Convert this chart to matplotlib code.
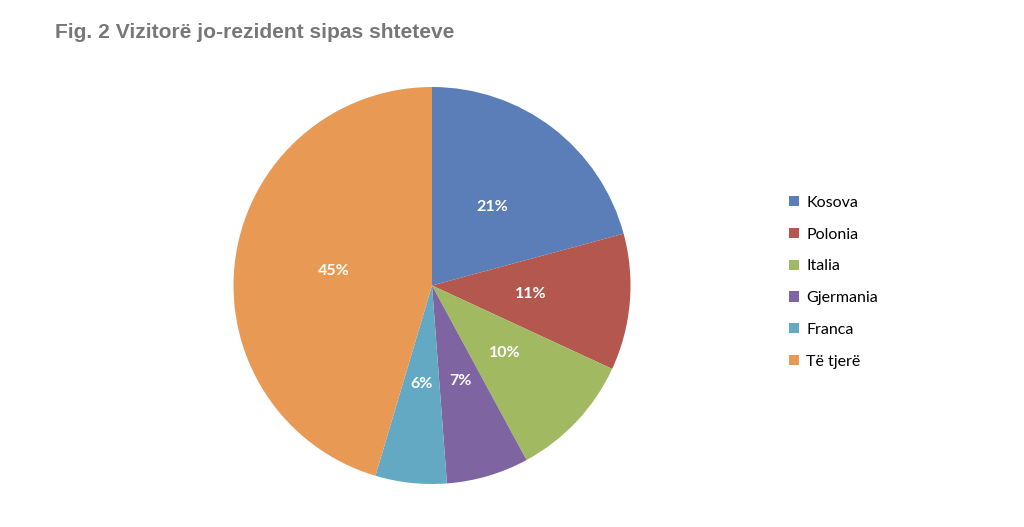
import matplotlib
matplotlib.use("Agg")
import matplotlib.pyplot as plt

categories = ["Kosova", "Polonia", "Italia", "Gjermania", "Franca", "Të tjerë"]
values = [20.8, 11.1, 10.2, 6.7, 5.8, 45.4]
colors = ["#5B7EB9", "#B3574F", "#A1BA62", "#7E64A0", "#63A9C3", "#E89A55"]
title = "Fig. 2 Vizitorë jo-rezident sipas shteteve"

W, H = 1024, 527
fig = plt.figure(figsize=(W / 100, H / 100), dpi=100)
fig.patch.set_facecolor("white")

cx, cy, R = 432, 285.5, 198.5
ax = fig.add_axes([(cx - R) / W, (H - cy - R) / H, 2 * R / W, 2 * R / H])
wedges, texts, autotexts = ax.pie(
    values, colors=colors, startangle=90, counterclock=False,
    autopct="%.0f%%", pctdistance=0.5,
    textprops=dict(color="white", fontsize=11.5, fontweight="bold", family="Lato"),
)
ax.set_xlim(-1, 1)
ax.set_ylim(-1, 1)
ax.set_aspect("equal")
ax.axis("off")

fig.text(55 / W, 1 - 32 / H, title, fontsize=15.1, fontweight="bold",
         color="#777777", family="Liberation Sans", va="center", ha="left")

leg = fig.legend(wedges, categories, loc="upper left",
                 bbox_to_anchor=(783 / W, 1 - 189.5 / H), frameon=False,
                 prop=dict(family="Lato", size=11.5),
                 handlelength=0.62, handleheight=0.62, handletextpad=0.45,
                 labelspacing=1.11, borderaxespad=0)

fig.savefig("out.png", dpi=100, facecolor="white")
